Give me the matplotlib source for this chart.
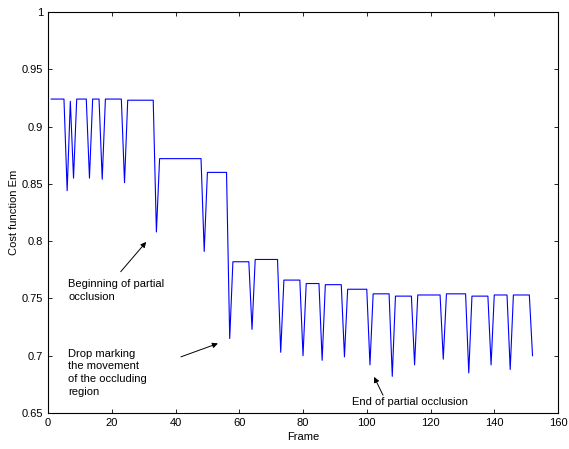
import numpy as np
import matplotlib
matplotlib.use("Agg")
from matplotlib import pyplot as plt

plt.rcParams["font.family"] = ["Liberation Sans", "DejaVu Sans"]
plt.rcParams["font.size"] = 8

# breakpoints of the cost curve (frame, Em); straight runs between them
frames = [1, 5, 6, 7, 8, 9, 12, 13, 14, 16, 17, 18, 23, 24, 25, 33, 34, 35,
          48, 49, 50, 56, 57, 58, 63, 64, 65, 72, 73, 74, 79, 80, 81, 85, 86,
          87, 92, 93, 94, 100, 101, 102, 107, 108, 109, 114, 115, 116, 123,
          124, 125, 131, 132, 133, 138, 139, 140, 144, 145, 146, 151, 152]
cost = [0.924, 0.924, 0.844, 0.922, 0.855, 0.924, 0.924, 0.855, 0.924, 0.924,
        0.854, 0.924, 0.924, 0.851, 0.923, 0.923, 0.808, 0.872,
        0.872, 0.791, 0.860, 0.860, 0.715, 0.782, 0.782, 0.723, 0.784,
        0.784, 0.703, 0.766, 0.766, 0.700, 0.763, 0.763, 0.696,
        0.762, 0.762, 0.699, 0.758, 0.758, 0.692, 0.754, 0.754, 0.682, 0.752,
        0.752, 0.692, 0.753, 0.753, 0.697, 0.754, 0.754, 0.685, 0.752,
        0.752, 0.692, 0.753, 0.753, 0.688, 0.753, 0.753, 0.700]

x_ticks = np.arange(0, 161, 20)
y_ticks = [0.65, 0.7, 0.75, 0.8, 0.85, 0.9, 0.95, 1]
y_ticklabels = ["0.65", "0.7", "0.75", "0.8", "0.85", "0.9", "0.95", "1"]

fig = plt.figure(figsize=(5.69, 4.49), dpi=100)
ax = fig.add_axes([0.0844, 0.0802, 0.8963, 0.8931])

ax.plot(frames, cost, color="#0000ff", lw=0.8)

ax.set_xlim(0, 160)
ax.set_ylim(0.65, 1)
ax.set_xticks(x_ticks)
ax.set_yticks(y_ticks)
ax.set_yticklabels(y_ticklabels)
ax.tick_params(direction="in", length=3, width=0.6, top=True, right=True, labelsize=8)
for side in ax.spines.values():
    side.set_linewidth(0.8)

ax.set_xlabel("Frame", labelpad=3)
ax.set_ylabel("Cost function Em", labelpad=2)

arrow = dict(arrowstyle="-|>", color="black", lw=0.7, mutation_scale=8, shrinkA=0, shrinkB=0)
ax.annotate("", xy=(30.8, 0.7993), xytext=(22.8, 0.7733), arrowprops=arrow)
ax.text(6.3, 0.767, "Beginning of partial\nocclusion", va="top", ha="left",
        linespacing=1.32)
ax.annotate("", xy=(53.3, 0.7107), xytext=(41.7, 0.699), arrowprops=arrow)
ax.text(6.3, 0.706, "Drop marking\nthe movement\nof the occluding\nregion", va="top",
        ha="left", linespacing=1.32)
ax.annotate("", xy=(102.3, 0.6815), xytext=(105.1, 0.6655), arrowprops=arrow)
ax.text(95.5, 0.6598, "End of partial occlusion", va="center", ha="left")

fig.savefig("out.png", dpi=100)
